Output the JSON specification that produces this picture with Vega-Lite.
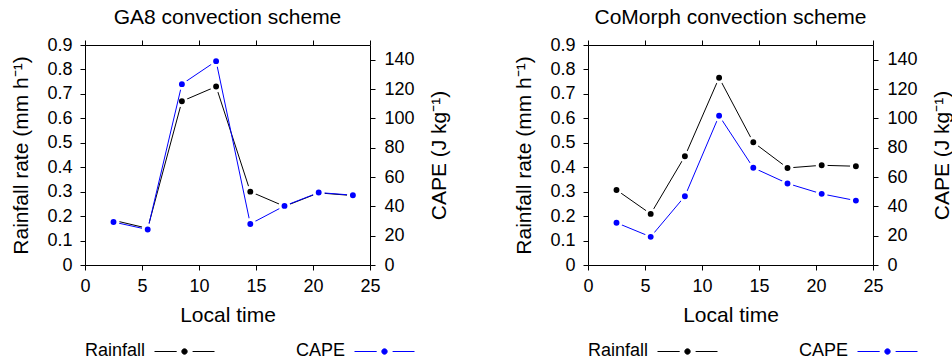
{
  "$schema": "https://vega.github.io/schema/vega-lite/v6.json",
  "padding": {"left": 10, "top": 7, "right": 0, "bottom": 0},
  "background": "white",
  "config": {
    "font": "Liberation Sans",
    "view": {"stroke": null},
    "axis": {"grid": false, "domainColor": "black", "tickColor": "black", "labelColor": "black", "titleColor": "black", "labelFontSize": 18, "titleFontSize": 21, "titleFontWeight": "normal", "tickSize": 5, "domainWidth": 1, "tickWidth": 1, "labelFont": "Liberation Sans", "titleFont": "Liberation Sans"},
    "title": {"fontSize": 21, "fontWeight": "normal", "color": "black", "font": "Liberation Sans"},
    "legend": {"padding": 0, "titleFontSize": 18, "titleFontWeight": "normal", "titleColor": "black", "titleFont": "Liberation Sans", "titleOrient": "left", "titlePadding": 33, "labelOffset": 0, "labelFontSize": 1, "symbolSize": 100, "symbolStrokeWidth": 1, "symbolType": "M-6,0H-1.56M1.62,0H6M0.54,0A0.54,0.54,0,1,1,-0.54,0A0.54,0.54,0,1,1,0.54,0Z"}
  },
  "datasets": {
    "ga8": [
      {"time": 2.5, "rainfall": 0.183, "cape": 29.3},
      {"time": 5.5, "rainfall": 0.15, "cape": 24.2},
      {"time": 8.5, "rainfall": 0.67, "cape": 123.3},
      {"time": 11.5, "rainfall": 0.73, "cape": 139},
      {"time": 14.5, "rainfall": 0.30, "cape": 28},
      {"time": 17.5, "rainfall": 0.24, "cape": 40.3},
      {"time": 20.5, "rainfall": 0.295, "cape": 49.4},
      {"time": 23.5, "rainfall": 0.284, "cape": 47.6}
    ],
    "comorph": [
      {"time": 2.5, "rainfall": 0.307, "cape": 28.8},
      {"time": 5.5, "rainfall": 0.209, "cape": 19.2},
      {"time": 8.5, "rainfall": 0.445, "cape": 46.9},
      {"time": 11.5, "rainfall": 0.766, "cape": 101.8},
      {"time": 14.5, "rainfall": 0.502, "cape": 66.3},
      {"time": 17.5, "rainfall": 0.397, "cape": 55.6},
      {"time": 20.5, "rainfall": 0.408, "cape": 48.5},
      {"time": 23.5, "rainfall": 0.404, "cape": 43.9}
    ]
  },
  "spacing": 63,
  "resolve": {"scale": {"color": "independent"}},
  "hconcat": [
    {
      "width": 285, "height": 220,
      "title": {"text": "GA8 convection scheme", "anchor": "middle", "frame": "group", "offset": 8},
      "data": {"name": "ga8"},
      "layer": [
        {
          "encoding": {
            "x": {"field": "time", "type": "quantitative", "scale": {"domain": [0, 25], "nice": false}, "axis": {"orient": "bottom", "values": [0, 5, 10, 15, 20, 25], "title": "Local time", "labelPadding": 7, "titlePadding": 9, "labelFlush": false}},
            "y": {"field": "rainfall", "type": "quantitative", "scale": {"domain": [0, 0.9], "nice": false, "zero": true}, "axis": {"orient": "left", "values": [0, 0.1, 0.2, 0.3, 0.4, 0.5, 0.6, 0.7, 0.8, 0.9], "format": ".1~f", "title": "Rainfall rate (mm h⁻¹)", "labelPadding": 8, "titlePadding": 15}},
            "color": {"datum": "Rainfall", "scale": {"domain": ["Rainfall"], "range": ["black"]}, "legend": {"orient": "none", "legendX": 0, "legendY": 301, "title": "Rainfall", "labelExpr": "''", "encode": {"symbols": {"update": {"fill": {"value": "black"}, "stroke": {"value": "black"}, "opacity": {"value": 1}}}}}}
          },
          "layer": [
            {"mark": {"type": "line", "strokeWidth": 1}},
            {"mark": {"type": "point", "filled": true, "size": 79, "stroke": "white", "strokeWidth": 3, "opacity": 1}}
          ]
        },
        {
          "encoding": {
            "x": {"field": "time", "type": "quantitative", "scale": {"domain": [0, 25], "nice": false}, "axis": {"orient": "top", "values": [0, 5, 10, 15, 20, 25], "labels": false, "title": null}},
            "y": {"field": "cape", "type": "quantitative", "scale": {"domain": [0, 150], "nice": false, "zero": true}, "axis": {"orient": "right", "values": [0, 20, 40, 60, 80, 100, 120, 140], "title": "CAPE (J kg⁻¹)", "labelPadding": 9, "titlePadding": 14, "titleAngle": 270, "titleBaseline": "top"}},
            "color": {"datum": "CAPE", "scale": {"domain": ["CAPE"], "range": ["#0000ff"]}, "legend": {"orient": "none", "legendX": 211, "legendY": 301, "title": "CAPE", "labelExpr": "''", "encode": {"symbols": {"update": {"fill": {"value": "#0000ff"}, "stroke": {"value": "#0000ff"}, "opacity": {"value": 1}}}}}}
          },
          "layer": [
            {"mark": {"type": "line", "strokeWidth": 1}},
            {"mark": {"type": "point", "filled": true, "size": 79, "stroke": "white", "strokeWidth": 3, "opacity": 1}}
          ]
        }
      ],
      "resolve": {"scale": {"y": "independent", "color": "independent"}, "axis": {"x": "independent"}}
    },
    {
      "width": 285, "height": 220,
      "title": {"text": "CoMorph convection scheme", "anchor": "middle", "frame": "group", "offset": 8},
      "data": {"name": "comorph"},
      "layer": [
        {
          "encoding": {
            "x": {"field": "time", "type": "quantitative", "scale": {"domain": [0, 25], "nice": false}, "axis": {"orient": "bottom", "values": [0, 5, 10, 15, 20, 25], "title": "Local time", "labelPadding": 7, "titlePadding": 9, "labelFlush": false}},
            "y": {"field": "rainfall", "type": "quantitative", "scale": {"domain": [0, 0.9], "nice": false, "zero": true}, "axis": {"orient": "left", "values": [0, 0.1, 0.2, 0.3, 0.4, 0.5, 0.6, 0.7, 0.8, 0.9], "format": ".1~f", "title": "Rainfall rate (mm h⁻¹)", "labelPadding": 8, "titlePadding": 15}},
            "color": {"datum": "Rainfall", "scale": {"domain": ["Rainfall"], "range": ["black"]}, "legend": {"orient": "none", "legendX": 0, "legendY": 301, "title": "Rainfall", "labelExpr": "''", "encode": {"symbols": {"update": {"fill": {"value": "black"}, "stroke": {"value": "black"}, "opacity": {"value": 1}}}}}}
          },
          "layer": [
            {"mark": {"type": "line", "strokeWidth": 1}},
            {"mark": {"type": "point", "filled": true, "size": 79, "stroke": "white", "strokeWidth": 3, "opacity": 1}}
          ]
        },
        {
          "encoding": {
            "x": {"field": "time", "type": "quantitative", "scale": {"domain": [0, 25], "nice": false}, "axis": {"orient": "top", "values": [0, 5, 10, 15, 20, 25], "labels": false, "title": null}},
            "y": {"field": "cape", "type": "quantitative", "scale": {"domain": [0, 150], "nice": false, "zero": true}, "axis": {"orient": "right", "values": [0, 20, 40, 60, 80, 100, 120, 140], "title": "CAPE (J kg⁻¹)", "labelPadding": 9, "titlePadding": 14, "titleAngle": 270, "titleBaseline": "top"}},
            "color": {"datum": "CAPE", "scale": {"domain": ["CAPE"], "range": ["#0000ff"]}, "legend": {"orient": "none", "legendX": 211, "legendY": 301, "title": "CAPE", "labelExpr": "''", "encode": {"symbols": {"update": {"fill": {"value": "#0000ff"}, "stroke": {"value": "#0000ff"}, "opacity": {"value": 1}}}}}}
          },
          "layer": [
            {"mark": {"type": "line", "strokeWidth": 1}},
            {"mark": {"type": "point", "filled": true, "size": 79, "stroke": "white", "strokeWidth": 3, "opacity": 1}}
          ]
        }
      ],
      "resolve": {"scale": {"y": "independent", "color": "independent"}, "axis": {"x": "independent"}}
    }
  ]
}
